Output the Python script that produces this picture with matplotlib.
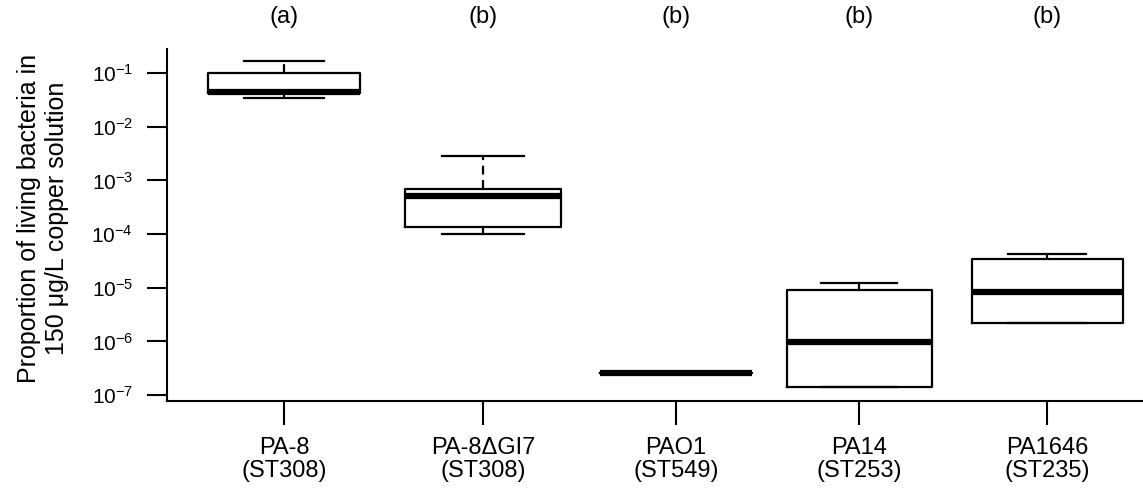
import matplotlib
matplotlib.use("Agg")
import matplotlib.pyplot as plt
import matplotlib.transforms as mtransforms

plt.rcParams['font.family'] = ['Liberation Sans', 'DejaVu Sans']
plt.rcParams['mathtext.fontset'] = 'custom'
plt.rcParams['mathtext.rm'] = 'Liberation Sans'
plt.rcParams['mathtext.it'] = 'Liberation Sans'

# Daten
strains = ["PA-8\n(ST308)", "PA-8\u0394GI7\n(ST308)", "PAO1\n(ST549)",
           "PA14\n(ST253)", "PA1646\n(ST235)"]
groups = ["(a)", "(b)", "(b)", "(b)", "(b)"]
positions = [284, 483, 676, 859, 1047]
whis_lo = [0.034, 1.0e-4, 2.6e-7, 1.4e-7, 2.2e-6]
q1 = [0.042, 1.35e-4, 2.6e-7, 1.4e-7, 2.2e-6]
median = [0.045, 5.1e-4, 2.6e-7, 9.8e-7, 8.3e-6]
q3 = [0.102, 6.8e-4, 2.6e-7, 9.1e-6, 3.5e-5]
whis_hi = [0.17, 2.9e-3, 2.6e-7, 1.24e-5, 4.3e-5]
yticks = [1e-1, 1e-2, 1e-3, 1e-4, 1e-5, 1e-6, 1e-7]
ytick_labels = ["$10^{-1}$", "$10^{-2}$", "$10^{-3}$", "$10^{-4}$",
                "$10^{-5}$", "$10^{-6}$", "$10^{-7}$"]

W, H = 1143, 496
fig = plt.figure(figsize=(W / 100, H / 100), dpi=100)
ax = fig.add_axes([167 / W, (H - 401) / H, (W - 167) / W, (401 - 49) / H])

stats = []
for i in range(len(strains)):
    stats.append(dict(whislo=whis_lo[i], q1=q1[i], med=median[i],
                      q3=q3[i], whishi=whis_hi[i], fliers=[]))

widths = [152, 156, 152, 145, 151]
ax.bxp(stats, positions=positions, widths=widths,
       capwidths=[w * 0.52 for w in widths],
       showfliers=False, manage_ticks=False,
       boxprops=dict(color="black", linewidth=1.6),
       medianprops=dict(color="black", linewidth=4.5, solid_capstyle="butt"),
       whiskerprops=dict(color="black", linewidth=1.6, linestyle=(0, (4, 2.5))),
       capprops=dict(color="black", linewidth=1.6))

ax.set_yscale("log")
ax.set_xlim(167, W)
ax.set_ylim(10 ** -7.11, 10 ** -0.553)
ax.set_yticks(yticks)
ax.set_yticklabels(ytick_labels)
ax.yaxis.set_minor_locator(matplotlib.ticker.NullLocator())
ax.set_xticks(positions)
ax.set_xticklabels(strains, linespacing=1.05)

ax.spines["top"].set_visible(False)
ax.spines["right"].set_visible(False)
ax.spines["left"].set_linewidth(1.5)
ax.spines["bottom"].set_linewidth(1.5)
ax.tick_params(axis="y", length=14.5, width=1.5, pad=10, labelsize=15)
ax.tick_params(axis="x", length=17, width=1.5, pad=9, labelsize=17)

trans = mtransforms.blended_transform_factory(ax.transData, ax.transAxes)
for x, g in zip(positions, groups):
    ax.text(x, 1.09, g, transform=trans, ha="center", va="center",
            fontsize=17, clip_on=False)

fig.text(43 / W, 1 - 218 / H,
         "Proportion of living bacteria in\n150 \u03bcg/L copper solution",
         rotation=90, ha="center", va="center", fontsize=18,
         multialignment="center")

fig.savefig("out.png", dpi=100)
